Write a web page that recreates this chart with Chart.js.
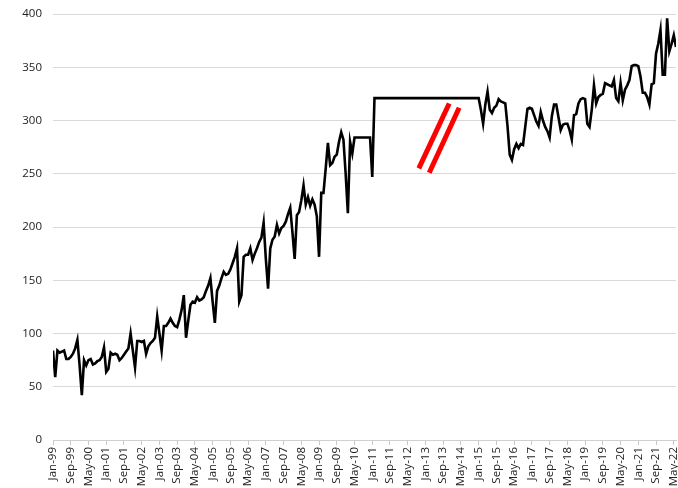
<!DOCTYPE html>
<html>
<head>
<meta charset="utf-8">
<script src="https://cdn.jsdelivr.net/npm/chart.js@4/dist/chart.umd.min.js"></script>
<style>
  html, body { margin: 0; padding: 0; background: #fff; }
  #wrap { width: 678px; height: 488px; position: relative; }
</style>
</head>
<body>
<div id="wrap"><canvas id="chart"></canvas></div>
<script>
// x-axis tick labels, one every 8 months starting Jan-99
const tickLabels = [
  "Jan-99", "Sep-99", "May-00", "Jan-01", "Sep-01", "May-02", "Jan-03", "Sep-03", "May-04",
  "Jan-05", "Sep-05", "May-06", "Jan-07", "Sep-07", "May-08", "Jan-09", "Sep-09", "May-10",
  "Jan-11", "Sep-11", "May-12", "Jan-13", "Sep-13", "May-14", "Jan-15", "Sep-15", "May-16",
  "Jan-17", "Sep-17", "May-18", "Jan-19", "Sep-19", "May-20", "Jan-21", "Sep-21", "May-22"
];

// monthly values, Jan-99 .. Jun-22 (one row per year)
const monthlyValues = [
  84, 59, 84, 82, 83, 84, 76, 76, 78, 81, 86, 94,            // 1999
  70, 42, 75, 70, 75, 76, 71, 72, 74, 75, 78, 87,            // 2000
  64, 67, 82, 80, 81, 80, 75, 77, 80, 83, 86, 100,           // 2001
  84, 68, 93, 93, 92, 93, 81, 88, 91, 93, 96, 116,           // 2002
  100, 84, 107, 107, 110, 114, 110, 107, 106, 113, 122, 136, // 2003
  96, 112, 127, 130, 129, 134, 131, 132, 134, 140, 145, 152, // 2004
  130, 110, 140, 145, 152, 158, 155, 156, 160, 166, 172, 180,// 2005
  130, 136, 172, 174, 174, 180, 169, 175, 180, 186, 190, 204,// 2006
  170, 142, 180, 188, 191, 202, 194, 199, 201, 205, 212, 218,// 2007
  195, 170, 211, 214, 225, 239, 221, 228, 220, 226, 221, 210,// 2008
  172, 232, 232, 255, 279, 258, 260, 266, 268, 280, 289, 282,// 2009
  250, 213, 280, 269, 284, 284, 284, 284, 284, 284, 284, 284,// 2010
  247, 321, 321, 321, 321, 321, 321, 321, 321, 321, 321, 321,// 2011
  321, 321, 321, 321, 321, 321, 321, 321, 321, 321, 321, 321,// 2012
  321, 321, 321, 321, 321, 321, 321, 321, 321, 321, 321, 321,// 2013
  321, 321, 321, 321, 321, 321, 321, 321, 321, 321, 321, 321,// 2014
  321, 310, 297, 315, 327, 310, 307, 312, 314, 320, 318, 317,// 2015
  316, 295, 268, 263, 273, 278, 274, 278, 277, 294, 311, 312,// 2016
  311, 305, 299, 295, 308, 300, 294, 290, 284, 304, 315, 315,// 2017
  303, 291, 296, 297, 297, 291, 282, 305, 306, 316, 320, 321,// 2018
  320, 297, 294, 310, 333, 316, 322, 324, 325, 335, 334, 333,// 2019
  332, 338, 321, 318, 335, 319, 329, 333, 338, 351, 352, 352,// 2020
  351, 341, 326, 326, 322, 315, 334, 335, 363, 372, 385, 343,// 2021
  343, 396, 365, 372, 380, 369                               // 2022
];

// the two red "axis break" strokes, as [month index, value] ends
const breakMarkA = [[165, 255], [178.7, 316]];
const breakMarkB = [[169.7, 251], [183.2, 312]];

const toPoints = (pairs) => pairs.map((p) => ({ x: p[0], y: p[1] }));

const ctx = document.getElementById("chart").getContext("2d");

new Chart(ctx, {
  type: "line",
  data: {
    datasets: [
      {
        label: "Index",
        data: monthlyValues.map((v, i) => ({ x: i, y: v })),
        borderColor: "#000000",
        borderWidth: 2.6,
        pointRadius: 0,
        tension: 0,
        fill: false,
        borderJoinStyle: "miter",
      },
      {
        label: "breakA",
        data: toPoints(breakMarkA),
        borderColor: "#ff0000",
        borderWidth: 5,
        pointRadius: 0,
        borderCapStyle: "butt",
      },
      {
        label: "breakB",
        data: toPoints(breakMarkB),
        borderColor: "#ff0000",
        borderWidth: 5,
        pointRadius: 0,
        borderCapStyle: "butt",
      },
    ],
  },
  options: {
    responsive: true,
    maintainAspectRatio: false,
    animation: false,
    layout: { padding: { top: 14, right: 2, left: 0, bottom: 0 } },
    plugins: {
      legend: { display: false },
      tooltip: { enabled: false },
    },
    scales: {
      x: {
        type: "linear",
        min: 0,
        max: monthlyValues.length - 1,
        afterFit: (scale) => {
          scale.height = 48;
          scale.paddingLeft = 0;
          scale.paddingRight = 0;
        },
        grid: {
          display: true,
          drawOnChartArea: false,
          drawTicks: true,
          tickLength: 5,
          color: "#c8c8c8",
        },
        border: { color: "#d0d0d0" },
        ticks: {
          stepSize: 8,
          autoSkip: false,
          includeBounds: false,
          maxRotation: 90,
          minRotation: 90,
          padding: 2,
          color: "#222222",
          font: { family: "'Open Sans', sans-serif", size: 11.5 },
          callback: function (value) {
            const lbl = tickLabels[value / 8];
            return lbl !== undefined ? lbl : "";
          },
        },
      },
      y: {
        min: 0,
        max: 400,
        afterFit: (scale) => {
          scale.width = 53;
          scale.paddingTop = 0;
          scale.paddingBottom = 0;
        },
        grid: {
          color: "#d9d9d9",
          drawTicks: false,
        },
        border: { display: false },
        ticks: {
          stepSize: 50,
          padding: 11,
          color: "#222222",
          font: { family: "'Open Sans', sans-serif", size: 11.5 },
        },
      },
    },
  },
});
</script>
</body>
</html>
